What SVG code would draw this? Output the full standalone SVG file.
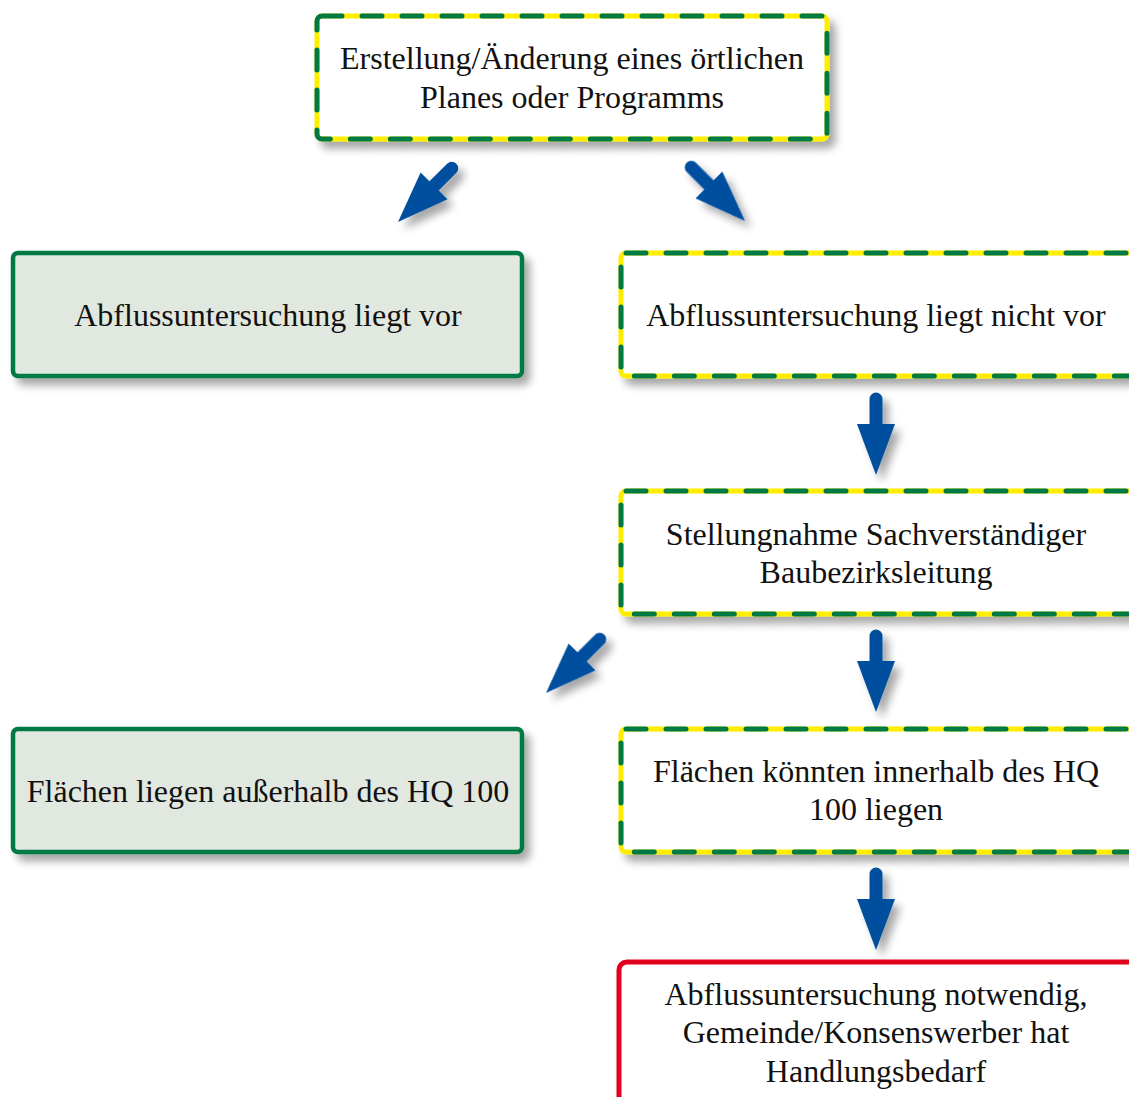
<svg xmlns="http://www.w3.org/2000/svg" width="1129" height="1097" viewBox="0 0 1129 1097">
<defs>
<filter id="sh" x="-10%" y="-20%" width="130%" height="150%">
<feGaussianBlur in="SourceAlpha" stdDeviation="4"/>
<feOffset dx="6" dy="7" result="b"/>
<feComponentTransfer><feFuncA type="linear" slope="0.35"/></feComponentTransfer>
<feMerge><feMergeNode/><feMergeNode in="SourceGraphic"/></feMerge>
</filter>
<g id="arr">
<path d="M0,-76 L0,-45" stroke="#00509e" stroke-width="13" stroke-linecap="round" fill="none"/>
<polygon points="-19,-51 19,-51 0,0" fill="#00509e"/>
</g>
</defs>
<style>
.yel{fill:none;stroke:#ffed00;stroke-width:5}
.dash{fill:none;stroke:#007a45;stroke-width:5;stroke-dasharray:20 20;stroke-linecap:round}
.w{fill:#ffffff}
.solid{fill:#e1e8e0;stroke:#007a45;stroke-width:4.5}
.red{fill:#ffffff;stroke:#e2001a;stroke-width:5}
text{font-family:"Liberation Serif","Times New Roman",serif;font-size:32px;fill:#111;text-anchor:middle}
</style>
<g id="n1" filter="url(#sh)">
<rect x="317" y="16" width="510" height="123" rx="5" class="w"/>
<rect x="317" y="16" width="510" height="123" rx="5" class="yel"/>
<rect x="317" y="16" width="510" height="123" rx="5" class="dash"/>
</g>
<g><text x="572" y="69">Erstellung/Änderung eines örtlichen</text><text x="572" y="108">Planes oder Programms</text></g>
<g id="n2" filter="url(#sh)">
<rect x="13" y="253" width="509" height="123" rx="5" class="solid"/>
</g>
<text x="268" y="326">Abflussuntersuchung liegt vor</text>
<g id="n3" filter="url(#sh)">
<rect x="621" y="253" width="520" height="123" rx="5" class="w"/>
<rect x="621" y="253" width="520" height="123" rx="5" class="yel"/>
<rect x="621" y="253" width="520" height="123" rx="5" class="dash"/>
</g>
<text x="876" y="326">Abflussuntersuchung liegt nicht vor</text>
<g id="n4" filter="url(#sh)">
<rect x="621" y="491" width="520" height="123" rx="5" class="w"/>
<rect x="621" y="491" width="520" height="123" rx="5" class="yel"/>
<rect x="621" y="491" width="520" height="123" rx="5" class="dash"/>
</g>
<text x="876" y="545">Stellungnahme Sachverständiger</text>
<text x="876" y="583">Baubezirksleitung</text>
<g id="n5" filter="url(#sh)">
<rect x="13" y="729" width="509" height="123" rx="5" class="solid"/>
</g>
<text x="268" y="802">Flächen liegen außerhalb des HQ 100</text>
<g id="n6" filter="url(#sh)">
<rect x="621" y="729" width="520" height="123" rx="5" class="w"/>
<rect x="621" y="729" width="520" height="123" rx="5" class="yel"/>
<rect x="621" y="729" width="520" height="123" rx="5" class="dash"/>
</g>
<text x="876" y="782">Flächen könnten innerhalb des HQ</text>
<text x="876" y="820">100 liegen</text>
<g id="n7" filter="url(#sh)">
<rect x="619" y="962" width="530" height="160" rx="8" class="red"/>
</g>
<text x="876" y="1005">Abflussuntersuchung notwendig,</text>
<text x="876" y="1043">Gemeinde/Konsenswerber hat</text>
<text x="876" y="1082">Handlungsbedarf</text>
<g id="connectors" filter="url(#sh)">
<use href="#arr" transform="translate(398,222) rotate(45)"/>
<use href="#arr" transform="translate(745,221) rotate(-45)"/>
<use href="#arr" transform="translate(876,475)"/>
<use href="#arr" transform="translate(546,693) rotate(45)"/>
<use href="#arr" transform="translate(876,712)"/>
<use href="#arr" transform="translate(876,950)"/>
</g>
</svg>
